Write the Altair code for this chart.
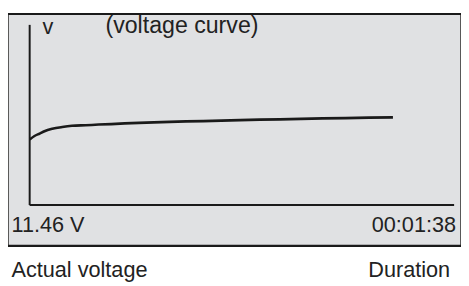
import altair as alt
import pandas as pd

# Voltage curve samples (time in seconds, voltage in volts)
time_s = [0, 1.3, 2.7, 4.0, 6.1, 8.8, 11.4, 15.1, 18.6, 98]
volts = [11.09, 11.15, 11.19, 11.23, 11.27, 11.30, 11.32, 11.33, 11.34, 11.46]

# Axis extents
t_max = 114.5
v_min, v_max = 10.0, 13.0

# Labels
label_axis = "v"
label_title = "(voltage curve)"
label_voltage = "11.46 V"
label_duration = "00:01:38"
label_actual = "Actual voltage"
label_dur_caption = "Duration"

W, H = 460, 276
FONT = "Liberation Sans"
INK = "#222222"

xs = alt.Scale(domain=[0, t_max], range=[22, 453])
ys = alt.Scale(domain=[v_min, v_max], range=[198, 15])

one = pd.DataFrame({"a": [0]})
curve = pd.DataFrame({"t": time_s, "v": volts})
axes = pd.DataFrame({"x": [0, 0], "x2": [0, t_max], "y": [v_min, v_min], "y2": [v_max, v_min]})

box = alt.Chart(one).mark_rect(fill="#e0e1e3", stroke="#555555", strokeWidth=1).encode(
    x=alt.value(0.5), x2=alt.value(459.5), y=alt.value(4), y2=alt.value(239.5)
)
top_edge = alt.Chart(one).mark_rule(color="#1a1a1a", strokeWidth=2.2).encode(
    x=alt.value(0), x2=alt.value(460), y=alt.value(4)
)
bottom_edge = alt.Chart(one).mark_rule(color="#1a1a1a", strokeWidth=2.2).encode(
    x=alt.value(0), x2=alt.value(460), y=alt.value(239.5)
)

axis_lines = alt.Chart(axes).mark_rule(color="#1a1a1a", strokeWidth=2).encode(
    x=alt.X("x:Q", scale=xs, axis=None),
    x2="x2:Q",
    y=alt.Y("y:Q", scale=ys, axis=None),
    y2="y2:Q",
)

line = alt.Chart(curve).mark_line(color="#1a1a1a", strokeWidth=2.6, interpolate="monotone").encode(
    x=alt.X("t:Q", scale=xs, axis=None),
    y=alt.Y("v:Q", scale=ys, axis=None),
)

def txt(s, x, y, align="left", size=22):
    return alt.Chart(one).mark_text(
        text=s, align=align, baseline="alphabetic", fontSize=size, font=FONT, color=INK
    ).encode(x=alt.value(x), y=alt.value(y))

chart = alt.layer(
    box, top_edge, bottom_edge, axis_lines, line,
    txt(label_axis, 35, 24),
    txt(label_title, 99, 23, size=23.5),
    txt(label_voltage, 3.5, 225),
    txt(label_duration, 455, 225, "right"),
    txt(label_actual, 3.5, 271),
    txt(label_dur_caption, 449, 271, "right"),
).properties(
    width=W, height=H, autosize=alt.AutoSizeParams(type="none"), padding=0, background="white"
).configure_view(stroke=None)

chart.save("out.html", embed_options={"renderer": "svg", "actions": False})
